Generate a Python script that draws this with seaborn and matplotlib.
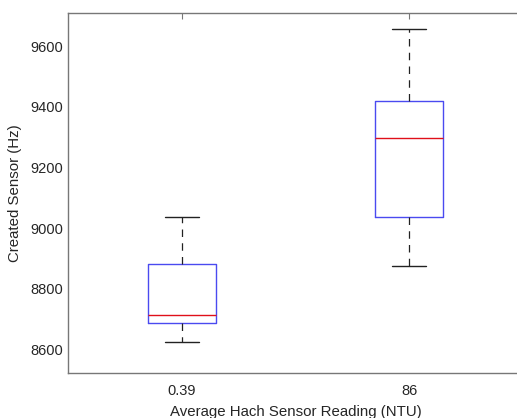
import matplotlib
matplotlib.use("Agg")
import matplotlib.pyplot as plt
import seaborn as sns
import pandas as pd

# Data (five-number summaries per group)
categories = ["0.39", "86"]
group_039 = [8624, 8688, 8713, 8881, 9036]
group_86 = [8875, 9036, 9296, 9419, 9656]
y_ticks = [8600, 8800, 9000, 9200, 9400, 9600]

df = pd.DataFrame({
    "group": [categories[0]] * len(group_039) + [categories[1]] * len(group_86),
    "value": group_039 + group_86,
})

sns.set_style("white")
plt.rcParams["font.family"] = ["Liberation Sans", "DejaVu Sans"]

fig = plt.figure(figsize=(5.17, 4.18), dpi=100)
ax = fig.add_axes([68 / 517, 45 / 418, 455 / 517, 360 / 418])

sns.boxplot(
    data=df, x="group", y="value", order=categories, ax=ax,
    width=0.3, whis=1.5, fill=False, showfliers=False,
    boxprops=dict(color="#4a4af0", linewidth=1.0),
    medianprops=dict(color="#e0101a", linewidth=1.0),
    whiskerprops=dict(color="#222222", linewidth=0.9, linestyle=(0, (6, 5))),
    capprops=dict(color="#222222", linewidth=1.0),
)

ax.set_xlim(-0.5, 1.5)
ax.set_ylim(8523, 9709)
ax.set_yticks(y_ticks)
ax.set_yticklabels([str(t) for t in y_ticks])
ax.set_xlabel("Average Hach Sensor Reading (NTU)", fontsize=10.8, color="#262626", labelpad=5)
ax.set_ylabel("Created Sensor (Hz)", fontsize=10.8, color="#262626", labelpad=6)

for s in ax.spines.values():
    s.set_color("#777777")
    s.set_linewidth(1.0)
ax.spines["right"].set_visible(False)
ax.tick_params(direction="in", length=4, width=0.8, color="#777777",
               labelsize=10.5, labelcolor="#262626", top=True, right=True)
ax.tick_params(axis="y", which="both", right=True)
ax.tick_params(axis="x", pad=8)

fig.savefig("out.png", dpi=100)
